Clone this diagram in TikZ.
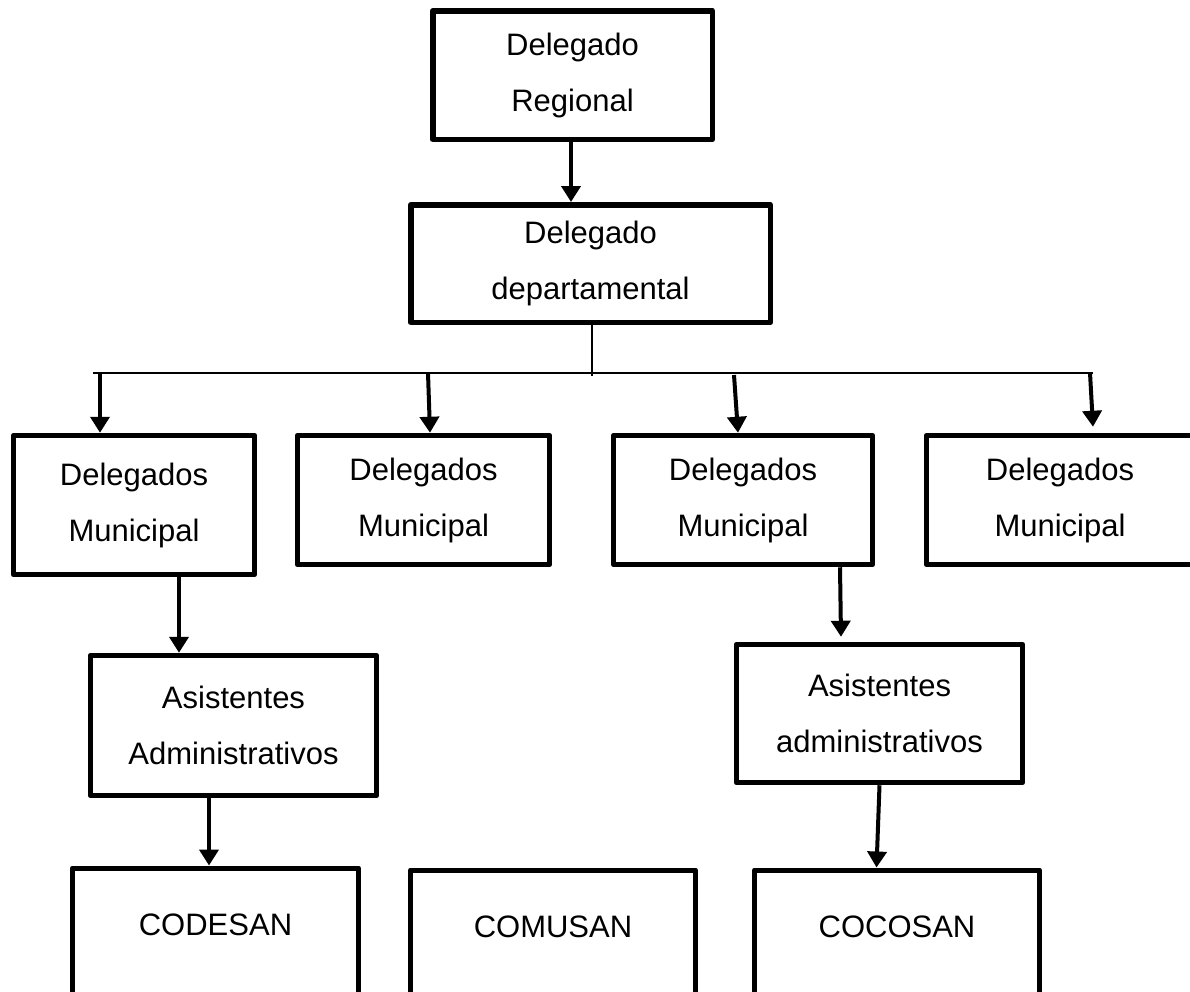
\documentclass[tikz,border=0pt]{standalone}
\usepackage{fontspec}
\setmainfont{Liberation Sans}
\usetikzlibrary{arrows.meta}
\usetikzlibrary{calc}

\begin{document}
\begin{tikzpicture}[x=1pt, y=-1pt,
		box/.style={draw, line width=5.5pt, line join=round, inner sep=0pt, align=center, font=\fontsize{31}{56}\selectfont},
		lowbox/.style={box, anchor=north, minimum height=170pt, text height=22.2pt, text depth=57pt},
		arr/.style={-{Triangle[width=19pt, length=16pt]}, line width=4pt},
		busline/.style={line width=1.8pt}]

		\useasboundingbox (0,0) rectangle (1190,991);
		\clip (0,0) rectangle (1190,991);

		% Draw the two top boxes
		\node[box, minimum width=279.5pt, minimum height=128.5pt] (reg) at (572.5,75) {Delegado\\Regional};
		\node[box, minimum width=359.5pt, minimum height=117.5pt] (dep) at (590.5,263.5) {Delegado\\departamental};

		% Draw the municipal delegates
		\node[box, minimum width=241pt, minimum height=139pt] (mun1) at (134,505) {Delegados\\Municipal};
		\node[box, minimum width=252pt, minimum height=129pt] (mun2) at (423.5,500) {Delegados\\Municipal};
		\node[box, minimum width=259pt, minimum height=129pt] (mun3) at (743,500) {Delegados\\Municipal};
		\node[box, minimum width=267pt, minimum height=129pt] (mun4) at (1060,500) {Delegados\\Municipal};

		% Draw the assistants
		\node[box, minimum width=286pt, minimum height=140pt] (asis1) at (233.5,725.5) {Asistentes\\Administrativos};
		\node[box, minimum width=286pt, minimum height=138pt] (asis2) at (879.5,713.5) {Asistentes\\administrativos};

		% Draw the committees (cut off by the page bottom)
		\node[lowbox, minimum width=286pt] (codesan) at (215.5,865.5) {CODESAN};
		\node[lowbox, minimum width=285pt] (comusan) at (553,867.5) {COMUSAN};
		\node[lowbox, minimum width=285pt] (cocosan) at (897,867.5) {COCOSAN};

		% Draw the arrow between the top boxes
		\coordinate (k0) at ($(reg.south)+(-1.5,0)$);
		\draw[arr] (k0) -- (k0 |- dep.north);

		% Draw the branching line
		\coordinate (top) at ($(dep.south)+(1.5,0)$);
		\coordinate (busL) at (93,373);
		\coordinate (busR) at (1093,373);
		\draw[busline] (top) -- ++(0,51);
		\draw[busline] (busL) -- (busR);

		\coordinate (b1) at (100,373);
		\coordinate (b2) at (428,373);
		\coordinate (b3) at (734,375);
		\coordinate (b4) at (1090,373);
		\draw[arr] (b1) -- (b1 |- mun1.north);
		\draw[arr] (b2) -- ($(b2 |- mun2.north)+(2,0)$);
		\draw[arr] (b3) -- ($(b3 |- mun3.north)+(4,0)$);
		\draw[arr] (b4) -- ($(b4 |- mun4.north)+(3,-6)$);

		% Draw the arrows further down
		\coordinate (k1) at ($(mun1.south)+(45,0)$);
		\draw[arr] (k1) -- (k1 |- asis1.north);
		\coordinate (k2) at ($(asis1.south)+(-24.5,0)$);
		\draw[arr] (k2) -- (k2 |- codesan.north);
		\coordinate (k3) at ($(mun3.south)+(97,0)$);
		\draw[arr] (k3) -- ($(k3 |- asis2.north)+(1,-5)$);
		\draw[arr] (asis2.south) -- ($(asis2.south |- cocosan.north)+(-3,0)$);

	\end{tikzpicture}
\end{document}
